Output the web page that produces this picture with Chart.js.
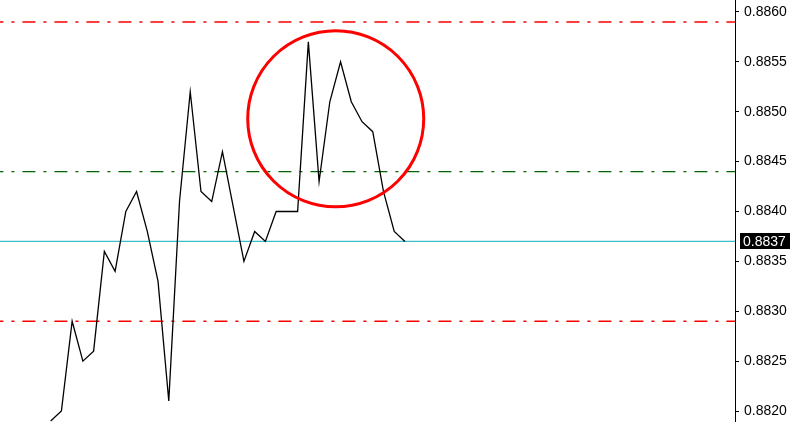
<!DOCTYPE html>
<html>
<head>
<meta charset="utf-8">
<script src="https://cdn.jsdelivr.net/npm/chart.js@4.4.1/dist/chart.umd.min.js"></script>
<style>
  html, body { margin: 0; padding: 0; background: #fff; }
  #wrap { width: 800px; height: 422px; }
</style>
</head>
<body>
<div id="wrap"><canvas id="priceChart" width="800" height="422"></canvas></div>
<script>
// bar index -> close price
const bars = [0, 1, 2, 3, 4, 5, 6, 7, 8, 9, 10, 11, 12, 13, 14, 15, 16,
    17, 18, 19, 20, 21, 22, 23, 24, 25, 26, 27, 28, 29, 30, 31, 32, 33];
const closes = [0.8819, 0.8820, 0.8829, 0.8825, 0.8826, 0.8836, 0.8834, 0.8840,
    0.8842, 0.8838, 0.8833, 0.8821, 0.8841, 0.8852, 0.8842, 0.8841, 0.8846,
    0.88405, 0.8835, 0.8838, 0.8837, 0.8840, 0.8840, 0.8840, 0.8857, 0.8843,
    0.8851, 0.8855, 0.8851, 0.8849, 0.8848, 0.8842, 0.8838, 0.8837];

const priceTicks = [0.8820, 0.8825, 0.8830, 0.8835, 0.8840, 0.8845, 0.8850, 0.8855, 0.8860];
const currentPrice = 0.8837;
const resistance = 0.8859;
const pivot = 0.8844;
const support = 0.8829;
// circled area: bar position, price, radius in px
const ringBar = 26.55;
const ringPrice = 0.88493;
const ringRadius = 88;

const xMin = -4.72, xMax = 63.74;
const dashDot = [13, 8, 3, 8];

const levelLine = (value, color, dash, width) => ({
    type: 'line',
    data: [{ x: xMin, y: value }, { x: xMax, y: value }],
    borderColor: color,
    borderWidth: width,
    borderDash: dash,
    borderDashOffset: 9.6,
    pointRadius: 0,
    fill: false,
    order: 5
});

const priceLabel = {
    id: 'priceLabel',
    afterDraw(chart) {
        const y = chart.scales.y.getPixelForValue(currentPrice);
        const ctx = chart.ctx;
        ctx.save();
        ctx.fillStyle = '#000';
        ctx.fillRect(740, Math.round(y) - 8, 50, 16);
        ctx.fillStyle = '#fff';
        ctx.font = '14px "Liberation Sans", Arial, sans-serif';
        ctx.textBaseline = 'middle';
        ctx.textAlign = 'left';
        ctx.fillText(currentPrice.toFixed(4), 743, Math.round(y) + 1);
        ctx.restore();
    }
};

new Chart(document.getElementById('priceChart'), {
    data: {
        datasets: [
            {
                type: 'line',
                data: bars.map((b, i) => ({ x: b, y: closes[i] })),
                borderColor: '#000',
                borderWidth: 1.3,
                pointRadius: 0,
                tension: 0,
                fill: false,
                order: 1
            },
            {
                type: 'bubble',
                data: [{ x: ringBar, y: ringPrice, r: ringRadius }],
                borderColor: '#ff0000',
                backgroundColor: 'rgba(0,0,0,0)',
                borderWidth: 3,
                clip: false,
                order: 0
            },
            levelLine(resistance, '#ff0000', dashDot, 1.5),
            levelLine(pivot, '#006400', dashDot, 1.3),
            levelLine(currentPrice, 'rgb(60,190,200)', [], 1.2),
            levelLine(support, '#ff0000', dashDot, 1.5)
        ]
    },
    options: {
        responsive: false,
        animation: false,
        devicePixelRatio: 1,
        layout: { padding: 0, autoPadding: false },
        plugins: { legend: { display: false }, tooltip: { enabled: false } },
        scales: {
            x: {
                type: 'linear',
                display: false,
                min: xMin,
                max: xMax
            },
            y: {
                type: 'linear',
                position: 'right',
                min: 0.88189,
                max: 0.88612,
                afterBuildTicks: scale => {
                    scale.ticks = priceTicks.map(v => ({ value: v }));
                },
                afterFit: scale => {
                    scale.width = 65;
                    scale.paddingTop = 0;
                    scale.paddingBottom = 0;
                },
                border: { display: true, color: '#000', width: 1 },
                grid: { drawOnChartArea: false, tickLength: 4, color: '#000' },
                ticks: {
                    color: '#000',
                    padding: 5,
                    font: { family: '"Liberation Sans", Arial, sans-serif', size: 14 },
                    callback: v => v.toFixed(4)
                }
            }
        }
    },
    plugins: [priceLabel]
});
</script>
</body>
</html>
